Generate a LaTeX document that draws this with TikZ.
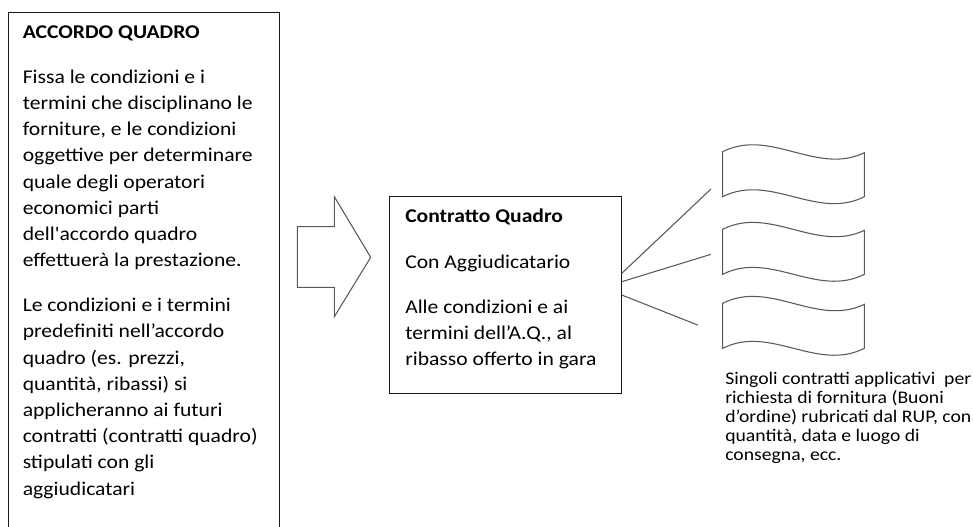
\documentclass[tikz,border=0pt]{standalone}
\usepackage{fontspec}
\setmainfont{Carlito}[Ligatures=TeXOff, FakeStretch=1.11]
\newcommand\bigtxt{\fontsize{14.6}{19.65}\selectfont}
\newcommand\midtxt{\fontsize{14.6}{19.4}\selectfont}
\newcommand\smtxt{\fontsize{13.3}{14.35}\selectfont}
\begin{document}
\begin{tikzpicture}[x=0.75pt,y=-0.75pt,
  box/.style={draw=black!90, line width=0.8pt, inner sep=0pt, anchor=north west},
  shp/.style={draw=black!65, line width=0.8pt},
  con/.style={draw=black!65, line width=0.8pt},
  txt/.style={anchor=base west, inner sep=0pt, text=black}]
\useasboundingbox (0,0) rectangle (973,526);
% left box (extends below the page)
\node[box, minimum width=203.25pt, minimum height=400pt] (aq) at (8,12) {};
\node[txt] (aqt) at (22.5,38.3) {\bigtxt\bfseries ACCORDO QUADRO};
\node[txt] (aqp1) at (22.5,83.3) {\parbox[t]{230pt}{\bigtxt\raggedright
Fissa le condizioni e i\\
termini che disciplinano le\\
forniture, e le condizioni\\
oggettive per determinare\\
quale degli operatori\\
economici parti\\
dell'accordo quadro\\
effettuerà la prestazione.}};
\node[txt] (aqp2) at (22.5,311.7) {\parbox[t]{230pt}{\bigtxt\raggedright
Le condizioni e i termini\\
predefiniti nell’accordo\\
quadro (es. prezzi,\\
quantità, ribassi) si\\
applicheranno ai futuri\\
contratti (contratti quadro)\\
stipulati con gli\\
aggiudicatari}};
% big arrow
\draw[shp] (297.3,226.7) -- (334.3,226.7) -- (334.3,196.7) -- (370.7,257.3)
  -- (334.3,316.7) -- (334.3,287.3) -- (297.3,287.3) -- cycle;
% middle box
\node[box, minimum width=173.55pt, minimum height=148.2pt] (cq) at (389.3,195.7) {};
\node[txt] (cqt) at (405,222.7) {\midtxt\bfseries Contratto Quadro};
\node[txt] (cqa) at (405,268.3) {\midtxt Con Aggiudicatario};
\node[txt] (cqb) at (405,313.3) {\parbox[t]{190pt}{\midtxt\raggedright
Alle condizioni e ai\\
termini dell’A.Q., al\\
ribasso offerto in gara}};
% wave documents
\foreach \Y in {151.7,229.3,303.3}{
  \draw[shp] (722.7,\Y) .. controls (769.9,\Y-24) and (817.1,\Y+24) .. (864.3,\Y+1)
    -- (864.3,\Y+45) .. controls (817.1,\Y+69) and (769.9,\Y+21) .. (722.7,\Y+45) -- cycle;
}
% connectors
\coordinate (s1) at (cq.north east |- 0,273.3);
\coordinate (s2) at (cq.north east |- 0,281.7);
\coordinate (s3) at (cq.north east |- 0,295);
\coordinate (e1) at (711,189);
\coordinate (e2) at (711,254.3);
\coordinate (e3) at (697.7,325);
\draw[con] (s1) -- (e1);
\draw[con] (s2) -- (e2);
\draw[con] (s3) -- (e3);
% caption
\node[txt] (cap) at (725,384) {\parbox[t]{240pt}{\smtxt\raggedright
Singoli contratti applicativi\ \ per\\
richiesta di fornitura (Buoni\\
d’ordine) rubricati dal RUP, con\\
quantità, data e luogo di\\
consegna, ecc.}};
\end{tikzpicture}
\end{document}
